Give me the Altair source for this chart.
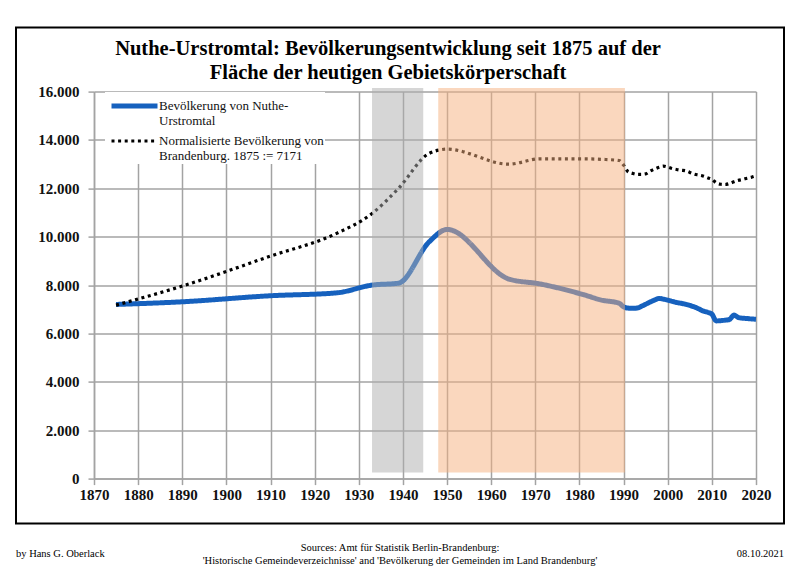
import altair as alt
import pandas as pd

# ---------------- data ----------------
s_nuthe = "Bevölkerung von Nuthe-Urstromtal"
s_bb = "Normalisierte Bevölkerung von Brandenburg. 1875 := 7171"

years = [1875, 1890, 1910, 1925, 1933, 1939, 1946, 1950, 1964, 1971, 1981, 1985, 1989,
         1990, 1991, 1992, 1993, 1994, 1995, 1996, 1997, 1998, 1999, 2000, 2001, 2002,
         2003, 2004, 2005, 2006, 2007, 2008, 2009, 2010, 2011, 2012, 2013, 2014, 2015,
         2016, 2017, 2018, 2019, 2020]
nuthe = [7200, 7310, 7560, 7680, 8000, 8080, 9800, 10300, 8250, 8050, 7600, 7380, 7250,
         7100, 7050, 7040, 7050, 7120, 7210, 7300, 7380, 7450, 7420, 7380, 7330, 7280,
         7250, 7210, 7160, 7100, 7020, 6930, 6880, 6800, 6520, 6530, 6550, 6580, 6760,
         6660, 6630, 6620, 6600, 6590]
brandenburg = [7171, 7960, 9200, 10140, 10960, 12000, 13450, 13620, 13000, 13220, 13220, 13200, 13150,
               12960, 12690, 12620, 12580, 12580, 12600, 12710, 12800, 12870, 12920, 12880, 12820, 12780,
               12750, 12730, 12660, 12590, 12550, 12510, 12440, 12370, 12230, 12170, 12160, 12200, 12270,
               12330, 12370, 12420, 12460, 12520]

band_start = [1933, 1948]
band_end = [1944.6, 1990.3]
band_color = ["#adadad", "#f5af7d"]

x_ticks = list(range(1870, 2021, 10))
y_ticks = list(range(0, 16001, 2000))

title_lines = ["Nuthe-Urstromtal: Bevölkerungsentwicklung seit 1875 auf der",
               "Fläche der heutigen Gebietskörperschaft"]
author = "by Hans G. Oberlack"
sources = ["Sources: Amt für Statistik Berlin-Brandenburg:",
           "'Historische Gemeindeverzeichnisse' and 'Bevölkerung der Gemeinden im Land Brandenburg'"]
date = "08.10.2021"

# ---------------- tables ----------------
df = pd.DataFrame({
    "year": years + years,
    "value": nuthe + brandenburg,
    "series": [s_nuthe] * len(years) + [s_bb] * len(years),
})
bands = pd.DataFrame({"start": band_start, "end": band_end, "fill": band_color})

FONT = "Liberation Serif"
GRID = "#a3a3a3"
BLUE = "#1661be"

legend = alt.Legend(
    title=None, orient="none", legendX=11, legendY=0.4,
    fillColor="white", padding=1,
    symbolType="M-11.5,3.25H11.5", symbolSize=16, symbolOffset=22,
    labelFont=FONT, labelFontSize=13, labelColor="#111",
    labelExpr=("datum.label == '" + s_nuthe + "' ? ['Bevölkerung von Nuthe-', 'Urstromtal'] : "
               "['Normalisierte Bevölkerung von', 'Brandenburg. 1875 := 7171']"),
    labelBaseline="top", labelOffset=18, rowPadding=-12, labelLimit=300,
)

xenc = alt.X("year:Q",
             scale=alt.Scale(domain=[1870, 2020], nice=False, zero=False),
             axis=alt.Axis(values=x_ticks, format="d", title=None,
                           labelFont=FONT, labelFontSize=15, labelFontWeight="bold",
                           labelColor="#111", labelPadding=3,
                           labelOverlap=False, labelFlush=False,
                           grid=True, gridColor=GRID, gridWidth=1.5,
                           domainColor=GRID, domainWidth=1.5,
                           tickColor=GRID, tickWidth=1.5, tickSize=6))
yenc = alt.Y("value:Q",
             scale=alt.Scale(domain=[0, 16000], nice=False),
             axis=alt.Axis(values=y_ticks, title=None,
                           labelExpr="replace(format(datum.value, ','), ',', '.')",
                           labelFont=FONT, labelFontSize=15, labelFontWeight="bold",
                           labelColor="#111", labelPadding=9,
                           labelOverlap=False,
                           grid=True, gridColor=GRID, gridWidth=1.5,
                           domainColor=GRID, domainWidth=1.5,
                           tickColor=GRID, tickWidth=1.5, tickSize=6))

lines = alt.Chart(df).mark_line(interpolate="monotone").encode(
    x=xenc, y=yenc,
    color=alt.Color("series:N", scale=alt.Scale(domain=[s_nuthe, s_bb], range=[BLUE, "black"]), legend=legend),
    strokeDash=alt.StrokeDash("series:N", scale=alt.Scale(domain=[s_nuthe, s_bb], range=[[1, 0], [3, 3.6]]), legend=legend),
    strokeWidth=alt.StrokeWidth("series:N", scale=alt.Scale(domain=[s_nuthe, s_bb], range=[5, 3.2]), legend=legend),
)

band_layer = alt.Chart(bands).mark_rect(opacity=0.5).encode(
    x="start:Q", x2="end:Q",
    y=alt.datum(16150), y2=alt.datum(250),
    fill=alt.Fill("fill:N", scale=None),
)

frame = alt.Chart(pd.DataFrame({"k": [0]})).mark_rect(
    fill="transparent", stroke="black", strokeWidth=2
).encode(x=alt.value(-78), x2=alt.value(690), y=alt.value(-64), y2=alt.value(432))

def txt(text, x, y, size, align="center", weight="normal"):
    return alt.Chart(pd.DataFrame({"t": [text]})).mark_text(
        font=FONT, fontSize=size, fontWeight=weight, align=align,
        baseline="alphabetic", color="black"
    ).encode(text="t:N", x=alt.value(x), y=alt.value(y))

texts = [
    txt(title_lines[0], 294, -37, 20.5, weight="bold"),
    txt(title_lines[1], 294, -13, 20.5, weight="bold"),
    txt(author, -78, 465, 10.5, align="left"),
    txt(sources[0], 306, 459, 10.5),
    txt(sources[1], 306, 472, 10.5),
    txt(date, 690, 465, 10.5, align="right"),
]

chart = alt.layer(lines, band_layer, frame, *texts).properties(
    width=662, height=387,
    autosize=alt.AutoSizeParams(type="none"),
    padding={"left": 86, "top": 83.6, "right": 36, "bottom": 87.4},
    background="white",
).configure_view(stroke=None)

chart.save("out.html", embed_options={"renderer": "svg", "actions": False})
